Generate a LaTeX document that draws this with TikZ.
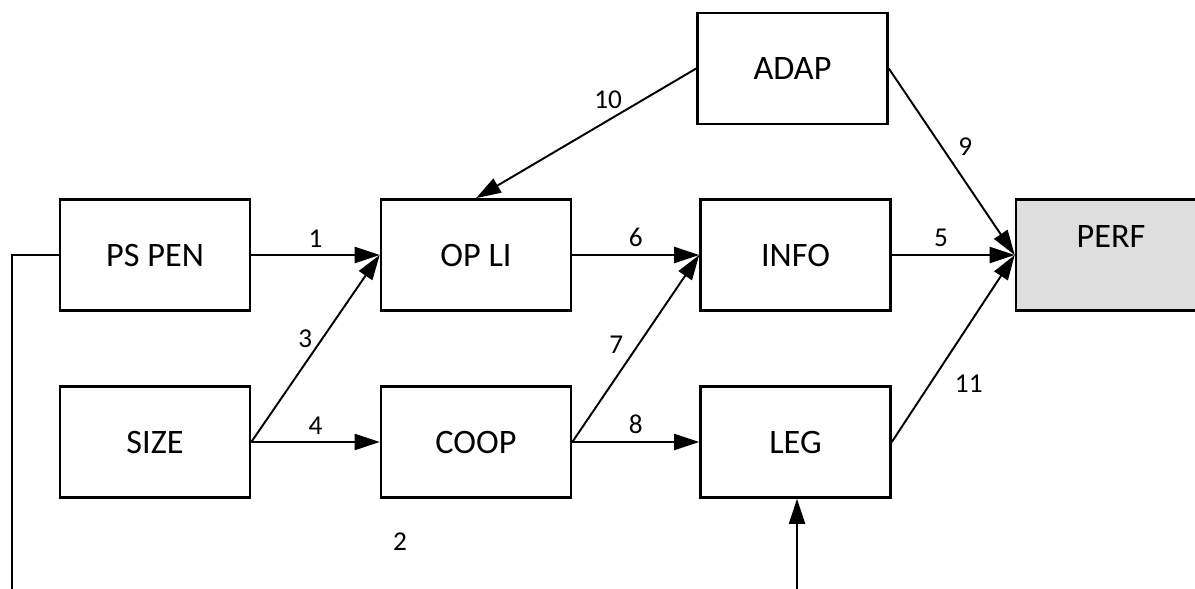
\documentclass[tikz,border=0pt]{standalone}
\usepackage{fontspec}
\setmainfont{Carlito}
\usetikzlibrary{arrows.meta}
\tikzset{
  blok/.style={draw, line width=1.5pt, fill=white, minimum width=3.8cm, minimum height=2.22cm, inner sep=0pt, font=\fontsize{19.5}{21}\selectfont},
  pijl/.style={-{Triangle[length=5mm,width=3.2mm]}, line width=1.1pt},
  getal/.style={font=\fontsize{15.5}{17}\selectfont, inner sep=2pt}
}

\begin{document}
\begin{tikzpicture}[x=0.02cm, y=-0.02cm]
	%%%%% START %%%%%
	\useasboundingbox (0,0) rectangle (1195,588);
	
	\node[blok] (pspen) at (155, 255) {PS PEN};
	\node[blok] (size) at (155, 442) {SIZE};
	\node[blok] (opli) at (476, 255) {OP LI};
	\node[blok] (coop) at (476, 442) {COOP};
	\node[blok] (info) at (795.5, 255) {INFO};
	\node[blok] (leg) at (795.5, 442) {LEG};
	\node[blok] (adap) at (792.5, 68.5) {ADAP};
	\node[blok, fill=black!13] (perf) at (1111, 255) {};
	\node[font=\fontsize{19.5}{21}\selectfont] (perftxt) at (1111, 237) {PERF};
	
	\draw[pijl] (pspen.east) -- node[getal, above=2pt] {1} (opli.west);
	\draw[pijl] (size.east) -- node[getal, pos=0.55, left=3pt] {3} (opli.west);
	\draw[pijl] (size.east) -- node[getal, above=2pt] {4} (coop.west);
	\draw[pijl] (opli.east) -- node[getal, above=2pt] {6} (info.west);
	\draw[pijl] (coop.east) -- node[getal, pos=0.52, left=6pt] {7} (info.west);
	\draw[pijl] (coop.east) -- node[getal, above=2pt] {8} (leg.west);
	\draw[pijl] (info.east) -- node[getal, pos=0.4, above=2pt] {5} (perf.west);
	\draw[pijl] (leg.east) -- node[getal, pos=0.42, below right=4pt] {11} (perf.west);
	\draw[pijl] (adap.east) -- node[getal, pos=0.42, right=7pt] {9} (perf.west);
	\draw[pijl] (adap.west) -- node[getal, pos=0.4, above=4pt] {10} (opli.north);
	
	% terugkoppeling onderaan
	\coordinate (fbL) at (12, 600);
	\coordinate (fbR) at (797, 600);
	\draw[line width=1.1pt] (pspen.west) -| (fbL);
	\draw[pijl] (fbR) -- (fbR |- leg.south);
	\node[getal] (twee) at (400, 542) {2};
	
	%%%%% END %%%%%
\end{tikzpicture}
\end{document}
